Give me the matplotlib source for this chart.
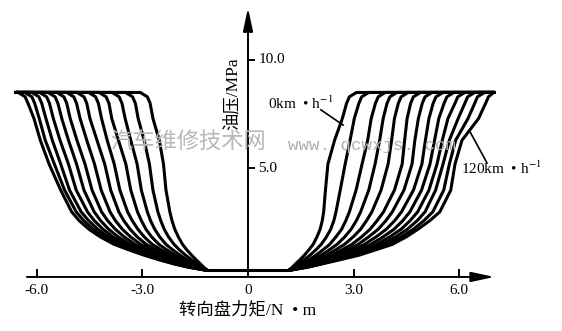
import matplotlib.pyplot as plt

plt.rcParams['mathtext.fontset'] = 'stix'

# speed of each curve, km/h (innermost curve = 0, outermost = 120)
speeds = [0, 10, 20, 30, 40, 50, 60, 70, 80, 90, 100, 110, 120]

# oil pressure levels (MPa) at which the torque of every curve was read
pressure = [0.3, 0.45, 0.6, 0.8, 1.0, 1.25, 1.5, 1.85, 2.2, 2.6, 3.0, 4.0,
            5.2, 6.3, 7.3, 8.0, 8.3, 8.5]

# steering torque (N·m) at those pressures, one list per speed - right half
torque_right = [
    [1.15, 1.26, 1.35, 1.48, 1.60, 1.73, 1.85, 1.96, 2.05, 2.11, 2.15, 2.20, 2.27, 2.46, 2.68, 2.80, 2.88, 3.08],
    [1.15, 1.31, 1.44, 1.60, 1.76, 1.93, 2.08, 2.23, 2.35, 2.44, 2.50, 2.62, 2.76, 2.90, 3.02, 3.15, 3.23, 3.43],
    [1.15, 1.36, 1.53, 1.74, 1.93, 2.13, 2.32, 2.50, 2.66, 2.78, 2.88, 3.07, 3.24, 3.40, 3.50, 3.62, 3.70, 3.90],
    [1.15, 1.40, 1.61, 1.85, 2.08, 2.31, 2.53, 2.75, 2.93, 3.08, 3.20, 3.43, 3.61, 3.74, 3.84, 3.95, 4.03, 4.23],
    [1.15, 1.44, 1.69, 1.97, 2.23, 2.49, 2.74, 2.99, 3.20, 3.37, 3.52, 3.78, 3.98, 4.08, 4.16, 4.27, 4.35, 4.55],
    [1.15, 1.48, 1.76, 2.07, 2.37, 2.67, 2.95, 3.23, 3.47, 3.67, 3.85, 4.16, 4.38, 4.45, 4.52, 4.62, 4.70, 4.90],
    [1.15, 1.52, 1.83, 2.17, 2.50, 2.83, 3.13, 3.43, 3.70, 3.92, 4.10, 4.43, 4.66, 4.74, 4.84, 4.95, 5.03, 5.23],
    [1.15, 1.55, 1.89, 2.26, 2.63, 2.98, 3.31, 3.64, 3.93, 4.17, 4.36, 4.70, 4.94, 5.04, 5.14, 5.26, 5.34, 5.54],
    [1.15, 1.58, 1.95, 2.35, 2.76, 3.13, 3.49, 3.84, 4.15, 4.40, 4.60, 4.93, 5.17, 5.30, 5.42, 5.57, 5.65, 5.85],
    [1.15, 1.61, 2.00, 2.43, 2.88, 3.27, 3.65, 4.03, 4.35, 4.61, 4.82, 5.14, 5.37, 5.52, 5.68, 5.88, 5.96, 6.16],
    [1.15, 1.64, 2.04, 2.50, 2.98, 3.39, 3.80, 4.20, 4.53, 4.81, 5.03, 5.33, 5.54, 5.72, 5.97, 6.16, 6.24, 6.44],
    [1.15, 1.67, 2.08, 2.57, 3.07, 3.51, 3.95, 4.36, 4.70, 5.00, 5.25, 5.56, 5.72, 5.90, 6.25, 6.44, 6.52, 6.72],
    [1.15, 1.70, 2.10, 2.63, 3.15, 3.63, 4.10, 4.50, 4.83, 5.17, 5.45, 5.76, 5.88, 6.08, 6.55, 6.75, 6.83, 6.98],
]

# same for the left half (negative torque)
torque_left = [
    [-1.15, -1.26, -1.35, -1.48, -1.60, -1.74, -1.86, -1.98, -2.08, -2.16, -2.22, -2.33, -2.40, -2.52, -2.70, -2.78, -2.86, -3.06],
    [-1.15, -1.31, -1.44, -1.61, -1.77, -1.95, -2.10, -2.26, -2.38, -2.48, -2.56, -2.70, -2.80, -2.95, -3.12, -3.20, -3.28, -3.48],
    [-1.15, -1.36, -1.53, -1.74, -1.93, -2.14, -2.33, -2.51, -2.65, -2.77, -2.86, -3.03, -3.15, -3.33, -3.49, -3.58, -3.66, -3.86],
    [-1.15, -1.40, -1.61, -1.85, -2.07, -2.31, -2.53, -2.74, -2.90, -3.03, -3.14, -3.33, -3.47, -3.68, -3.87, -3.95, -4.03, -4.23],
    [-1.15, -1.44, -1.68, -1.95, -2.20, -2.47, -2.72, -2.95, -3.13, -3.29, -3.42, -3.64, -3.80, -4.00, -4.16, -4.25, -4.33, -4.53],
    [-1.15, -1.48, -1.75, -2.05, -2.32, -2.62, -2.89, -3.15, -3.35, -3.53, -3.67, -3.90, -4.07, -4.29, -4.49, -4.58, -4.66, -4.86],
    [-1.15, -1.52, -1.82, -2.14, -2.44, -2.76, -3.05, -3.34, -3.57, -3.77, -3.92, -4.17, -4.36, -4.58, -4.77, -4.87, -4.95, -5.15],
    [-1.15, -1.56, -1.88, -2.23, -2.55, -2.90, -3.21, -3.52, -3.77, -3.99, -4.16, -4.43, -4.63, -4.86, -5.05, -5.15, -5.23, -5.43],
    [-1.15, -1.59, -1.94, -2.31, -2.65, -3.02, -3.35, -3.69, -3.96, -4.19, -4.37, -4.66, -4.87, -5.10, -5.29, -5.40, -5.48, -5.68],
    [-1.15, -1.62, -1.99, -2.38, -2.74, -3.13, -3.48, -3.84, -4.12, -4.37, -4.56, -4.88, -5.10, -5.34, -5.53, -5.64, -5.72, -5.92],
    [-1.15, -1.65, -2.03, -2.44, -2.82, -3.23, -3.59, -3.97, -4.27, -4.53, -4.74, -5.07, -5.32, -5.56, -5.74, -5.86, -5.94, -6.14],
    [-1.15, -1.68, -2.07, -2.50, -2.89, -3.31, -3.69, -4.09, -4.40, -4.67, -4.88, -5.21, -5.50, -5.76, -5.93, -6.06, -6.14, -6.34],
    [-1.15, -1.70, -2.10, -2.55, -2.95, -3.39, -3.80, -4.20, -4.52, -4.80, -5.01, -5.32, -5.65, -5.90, -6.08, -6.25, -6.33, -6.53],
]

plateau_p = 8.5          # relief valve pressure
plateau_ends = [-6.6, 7.0]
floor_p = 0.3
floor_ends = [-1.15, 1.15]

xticks = [-6.0, -3.0, 0, 3.0, 6.0]
xtick_labels = ['-6.0', '-3.0', '0', '3.0', '6.0']
yticks = [5.0, 10.0]
ytick_labels = ['5.0', '10.0']

serif = ['Liberation Serif', 'Noto Sans CJK SC']
cjk = ['Noto Sans CJK SC', 'DejaVu Sans']

fig = plt.figure(figsize=(5.62, 3.31), dpi=100)
ax = fig.add_axes([0, 0, 1, 1])
ax.set_xlim(-7.045, 8.92)
ax.set_ylim(-2.49, 12.76)
ax.axis('off')

lw = 2.2
for i in range(len(speeds)):
    yy = pressure + [plateau_p]
    ax.plot(torque_right[i] + [plateau_ends[1]], yy, color='black', lw=lw,
            solid_capstyle='round', solid_joinstyle='round')
    ax.plot(torque_left[i] + [plateau_ends[0]], yy, color='black', lw=lw,
            solid_capstyle='round', solid_joinstyle='round')
ax.plot(floor_ends, [floor_p, floor_p], color='black', lw=lw)

# axes with arrows
arrow = dict(arrowstyle='-|>,head_length=1.4,head_width=0.3', color='black',
             lw=1.4, shrinkA=0, shrinkB=0, mutation_scale=10)
ax.annotate('', xy=(7.0, 0), xytext=(-6.28, 0), arrowprops=arrow)
ax.annotate('', xy=(0, 12.4), xytext=(0, 0), arrowprops=arrow)

for t, lab in zip(xticks, xtick_labels):
    if t != 0:
        ax.plot([t, t], [0, 0.33], color='black', lw=1.4)
    ax.text(t, -0.62, lab, ha='center', va='center', fontsize=11, family=serif)
for t, lab in zip(yticks, ytick_labels):
    ax.plot([0, 0.18], [t, t], color='black', lw=1.4)
    ax.text(0.3, t, lab, ha='left', va='center', fontsize=11, family=serif)

ax.text(-0.45, 8.43, '油压/MPa', rotation=90, ha='center', va='center',
        fontsize=12.5, family=serif)
ax.text(0.0, -1.52, '转向盘力矩/N  • m', ha='center', va='center',
        fontsize=12.5, family=serif)

# speed labels with leader lines
ax.text(0.57, 8.02, '0km  • h$^{-1}$', ha='left', va='center', fontsize=11, family=serif)
ax.plot([2.07, 2.7], [7.7, 7.0], color='black', lw=1.2)
ax.text(6.05, 5.02, '120km  • h$^{-1}$', ha='left', va='center', fontsize=11, family=serif)
ax.plot([6.31, 6.79], [6.68, 5.25], color='black', lw=1.2)

# site watermark
ax.text(-3.92, 6.18, '汽车维修技术网', ha='left', va='center', fontsize=16,
        family=cjk, color='#b8b8b8', zorder=5)
ax.text(1.14, 6.04, 'www. qcwxjs. com', ha='left', va='center', fontsize=12.6,
        family=['Liberation Mono', 'DejaVu Sans'], color='#b0b0b0', zorder=5)

fig.savefig('out.png', dpi=100)
